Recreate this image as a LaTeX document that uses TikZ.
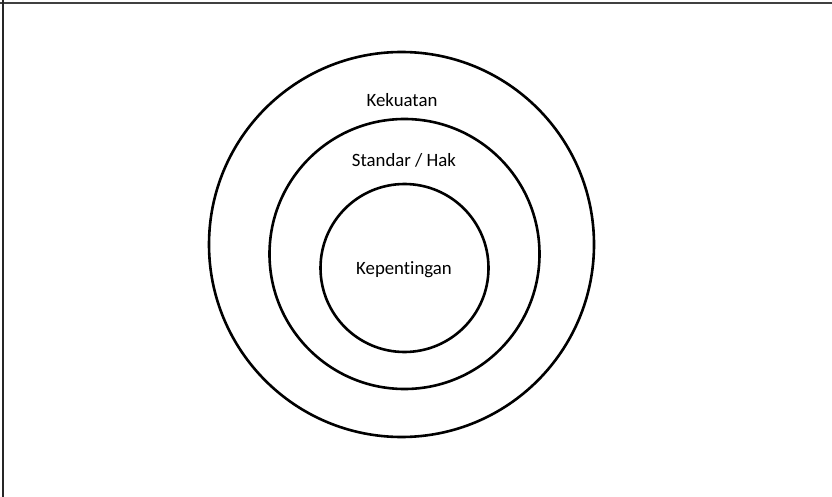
\documentclass[tikz,border=0pt]{standalone}
\usepackage{fontspec}
\setmainfont[Ligatures=NoCommon]{Carlito}
\begin{document}
\begin{tikzpicture}[x=1pt,y=-1pt,
  ring/.style={draw=black,line width=2.6pt,circle,inner sep=0pt},
  lbl/.style={font=\fontsize{18.8}{21}\selectfont,inner sep=0pt,anchor=base}]
\useasboundingbox (0,0) rectangle (832,497);
\draw[line width=2pt,draw=black!75] (0,3.5) -- (832,3.5);
\draw[line width=2pt,draw=black!85] (3,0) -- (3,497);
\node[ring,minimum size=385pt] (outer) at (401.5,244.5) {};
\node[ring,minimum size=270pt] (middle) at (404.5,254) {};
\node[ring,minimum size=168pt] (inner) at (404.5,268) {};
\node[lbl] (kek) at (402,107) {Kekuatan};
\node[lbl] (std) at (404,167) {Standar / Hak};
\node[lbl] (kep) at (404,274) {Kepentingan};
\end{tikzpicture}
\end{document}
